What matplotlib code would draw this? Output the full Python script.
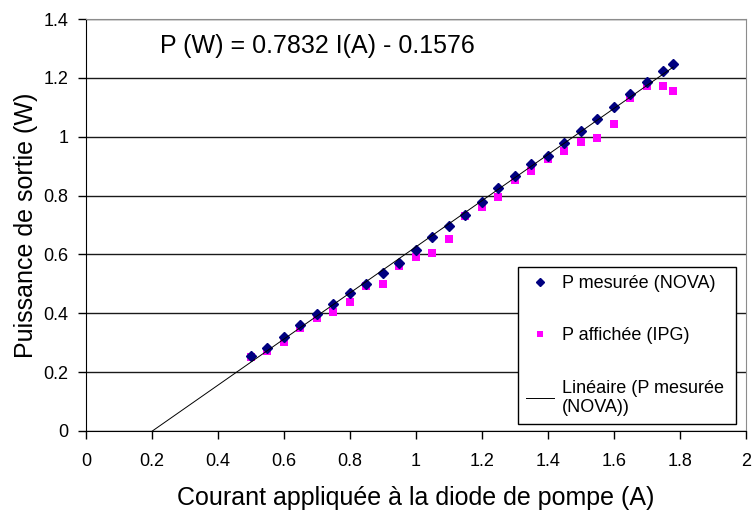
import numpy as np
import matplotlib
matplotlib.use("Agg")
import matplotlib.pyplot as plt
from matplotlib.ticker import FormatStrFormatter, MultipleLocator

plt.rcParams['font.family'] = ['Liberation Sans', 'DejaVu Sans']

# pump diode current (A)
courant = [0.50, 0.55, 0.60, 0.65, 0.70, 0.75, 0.80, 0.85, 0.90, 0.95,
           1.00, 1.05, 1.10, 1.15, 1.20, 1.25, 1.30, 1.35, 1.40, 1.45,
           1.50, 1.55, 1.60, 1.65, 1.70, 1.75, 1.78]

# output power measured with the NOVA meter (W)
p_nova = [0.255, 0.283, 0.320, 0.359, 0.396, 0.431, 0.468, 0.500, 0.536, 0.572,
          0.615, 0.658, 0.698, 0.735, 0.779, 0.825, 0.866, 0.907, 0.935, 0.977,
          1.019, 1.060, 1.102, 1.144, 1.185, 1.224, 1.246]

# output power displayed by the IPG laser (W)
p_ipg = [0.252, 0.273, 0.301, 0.350, 0.384, 0.403, 0.438, 0.494, 0.500, 0.561,
         0.590, 0.604, 0.651, 0.730, 0.762, 0.794, 0.853, 0.885, 0.923, 0.953,
         0.981, 0.995, 1.043, 1.130, 1.172, 1.173, 1.154]

# linear trend of the NOVA measurements
pente = 0.7832
origine = -0.1576
i_fit = np.array([-origine / pente, courant[-1]])

fig = plt.figure(figsize=(7.53, 5.14), dpi=100)
ax = fig.add_axes([0.1142, 0.1615, 0.8761, 0.8015])

ax.plot(courant, p_nova, linestyle='none', marker='D', markersize=5,
        color='#000080', label='P mesurée (NOVA)', zorder=3)
ax.plot(courant, p_ipg, linestyle='none', marker='s', markersize=5.5,
        color='#ff00ff', markeredgewidth=0, label='P affichée (IPG)', zorder=2)
ax.plot(i_fit, pente * i_fit + origine, color='black', linewidth=0.7,
        label='Linéaire (P mesurée\n(NOVA))', zorder=4)

ax.set_xlim(0, 2)
ax.set_ylim(0, 1.4)
ax.xaxis.set_major_locator(MultipleLocator(0.2))
ax.yaxis.set_major_locator(MultipleLocator(0.2))
ax.xaxis.set_major_formatter(FormatStrFormatter('%g'))
ax.yaxis.set_major_formatter(FormatStrFormatter('%g'))
ax.tick_params(axis='both', direction='out', length=5.5, width=1,
               labelsize=13, colors='black')
ax.tick_params(axis='x', pad=10)
ax.tick_params(axis='y', pad=7)

ax.yaxis.grid(True, color='#1a1a1a', linewidth=1)
ax.set_axisbelow(True)
for side in ('top', 'right'):
    ax.spines[side].set_color('#8c8c8c')
for side in ('left', 'bottom'):
    ax.spines[side].set_color('black')

ax.set_xlabel('Courant appliquée à la diode de pompe (A)', fontsize=18, labelpad=12)
ax.set_ylabel('Puissance de sortie (W)', fontsize=18, labelpad=4)

ax.text(0.112, 0.934, 'P (W) = 0.7832 I(A) - 0.1576', transform=ax.transAxes,
        fontsize=18, ha='left', va='center')

leg = ax.legend(loc='upper left', bbox_to_anchor=(0.655, 0.019, 0.33, 0.379),
                mode='expand', fontsize=13, frameon=True, fancybox=False,
                framealpha=1, edgecolor='black', labelspacing=1.95,
                handlelength=1.55, handletextpad=0.45, borderpad=0.45,
                borderaxespad=0, markerscale=0.8)
leg.get_frame().set_linewidth(1)

fig.savefig('out.png', dpi=100)
